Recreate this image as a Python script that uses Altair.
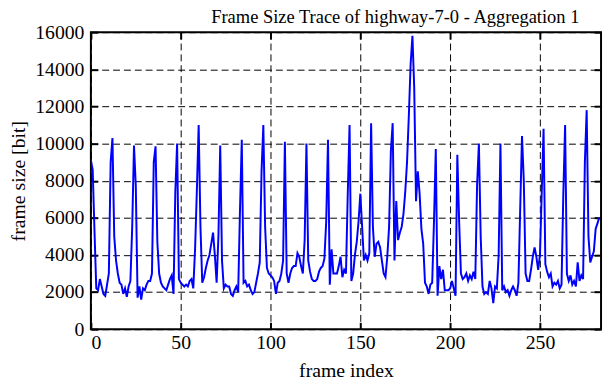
import altair as alt
import pandas as pd

# frame sizes [bit] (frames 0..283)
frame_size = [
    9100, 8600, 5300, 2200, 2100, 2700, 2300, 1900, 1800, 2400, 3000, 9000,
    10300, 5000, 3700, 3000, 2500, 2400, 1900, 2200, 1750, 2300, 2600, 5500,
    9900, 7700, 1700, 2300, 1600, 2200, 2100, 2400, 2600, 2600, 3000, 9000,
    9850, 4700, 3000, 2500, 2300, 2200, 2100, 2400, 2700, 2900, 1900, 7400,
    10000, 2700, 2500, 2400, 2300, 2400, 2300, 2600, 2700, 2200, 4300, 7500,
    11000, 5500, 2500, 2800, 3300, 3700, 4000, 4600, 5200, 4000, 2500, 5000,
    9900, 3700, 2200, 2400, 2300, 2300, 1900, 1800, 2100, 2300, 2000, 6400,
    10200, 2500, 2600, 2300, 2400, 2100, 1900, 2000, 2500, 3000, 3600, 8500,
    11000, 5500, 3300, 3000, 2900, 2800, 2600, 1900, 2500, 2600, 3000, 3700,
    10100, 3000, 2500, 3000, 3300, 3400, 3400, 4100, 3900, 3400, 3000, 4800,
    10000, 3700, 3100, 2700, 2600, 2600, 2700, 3100, 3300, 3400, 3800, 5800,
    10200, 2400, 4300, 3000, 3000, 3000, 3400, 3900, 2800, 3200, 3000, 7300,
    11000, 2600, 3000, 4000, 4700, 5800, 7300, 5500, 3700, 4000, 3700, 4100,
    11100, 5500, 3900, 4600, 4700, 4400, 3700, 3000, 2800, 3900, 5500, 9600,
    11100, 3700, 6900, 4800, 5200, 5500, 6200, 7400, 9000, 11500, 14300, 15800,
    13000, 6900, 8500, 7300, 5400, 4600, 2500, 2300, 1900, 2400, 2500, 5800,
    9700, 1800, 3400, 2700, 3200, 2100, 2100, 2100, 2200, 2600, 2200, 1800,
    9400, 5800, 3000, 2700, 2800, 3000, 2600, 2900, 2700, 3100, 2700, 7800,
    10000, 5000, 2300, 1900, 2000, 1900, 2600, 2200, 1400, 2300, 2200, 4000,
    10000, 2100, 2300, 2000, 2100, 1800, 2100, 2300, 2100, 1800, 2500, 6500,
    10400, 8000, 3000, 2600, 2600, 3200, 3900, 4400, 3900, 3200, 4000, 7400,
    10800, 3500, 3100, 2800, 3000, 2300, 2500, 2400, 2600, 2200, 2400, 7300,
    11000, 3000, 2600, 2900, 2400, 2600, 2300, 3600, 2600, 2900, 2700, 9000,
    11800, 5000, 3600, 3900, 4200, 5400, 5700, 6000,
]
frame_index = list(range(len(frame_size)))

x_ticks = [0, 50, 100, 150, 200, 250]
y_ticks = [0, 2000, 4000, 6000, 8000, 10000, 12000, 14000, 16000]
x_domain = [0, 284]
y_domain = [0, 16000]

df = pd.DataFrame({"frame": frame_index, "size": frame_size})

FONT = "Liberation Serif"
FS = 20

xs = alt.Scale(domain=x_domain, nice=False, zero=False)
ys = alt.Scale(domain=y_domain, nice=False)

base = alt.Chart(df)

line = base.mark_line(color="#0000ff", strokeWidth=2, clip=True).encode(
    x=alt.X(
        "frame:Q", scale=xs,
        axis=alt.Axis(
            orient="bottom", values=x_ticks, title="frame index", format="d",
            grid=True, gridColor="black", gridDash=[7, 4], gridWidth=1, gridOpacity=1,
            ticks=False, tickSize=0, domain=False,
            labelFont=FONT, labelFontSize=FS, labelColor="black", labelPadding=4,
            titleFont=FONT, titleFontSize=FS, titleFontWeight="normal", titleColor="black",
            titleBaseline="alphabetic", titleY=48,
        ),
    ),
    y=alt.Y(
        "size:Q", scale=ys,
        axis=alt.Axis(
            orient="left", values=y_ticks, title="frame size [bit]", format="d",
            grid=True, gridColor="black", gridDash=[7, 4], gridWidth=1, gridOpacity=1,
            ticks=False, tickSize=0, domain=False,
            labelFont=FONT, labelFontSize=FS, labelColor="black", labelPadding=7,
            titleFont=FONT, titleFontSize=FS, titleFontWeight="normal", titleColor="black",
            titleBaseline="middle", titleX=-73,
        ),
    ),
)


def tick_layer(xo, yo):
    return base.mark_line(opacity=0).encode(
        x=alt.X(
            "frame:Q", scale=xs,
            axis=alt.Axis(
                orient=xo, values=x_ticks, title="", labels=False, grid=False,
                domain=False, ticks=True, tickSize=7, tickWidth=2, tickColor="black",
                offset=-7,
            ),
        ),
        y=alt.Y(
            "size:Q", scale=ys,
            axis=alt.Axis(
                orient=yo, values=y_ticks, title="", labels=False, grid=False,
                domain=False, ticks=True, tickSize=7, tickWidth=2, tickColor="black",
                offset=-7,
            ),
        ),
    )


chart = (
    alt.layer(line, tick_layer("bottom", "left"), tick_layer("top", "right"))
    .resolve_axis(x="independent", y="independent")
    .properties(
        width=517,
        height=301,
        title=alt.TitleParams(
            "Frame Size Trace of highway-7-0 - Aggregation 1",
            font=FONT, fontSize=18.7, fontWeight="normal", color="black",
            anchor="middle", dx=50, dy=30, baseline="alphabetic", offset=11,
        ),
        autosize=alt.AutoSizeParams(type="none"),
        padding={"left": 84, "top": 22, "right": 3, "bottom": 51},
        background="white",
    )
    .configure_view(stroke="black", strokeWidth=2)
)

chart.save("out.html", embed_options={"renderer": "svg", "actions": False})
